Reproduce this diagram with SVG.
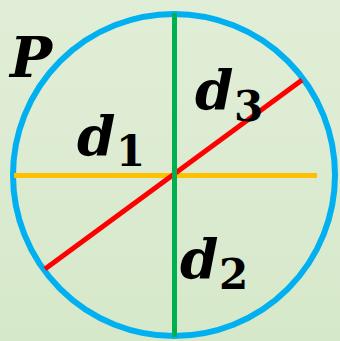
<svg xmlns="http://www.w3.org/2000/svg" width="340" height="341" viewBox="0 0 340 341">
<defs>
<linearGradient id="bg" x1="0" y1="0" x2="0" y2="1">
<stop offset="0" stop-color="#e1eed7"/>
<stop offset="1" stop-color="#d6e8ca"/>
</linearGradient>
<style>
.v{font-family:"DejaVu Serif",serif;font-weight:bold;font-style:italic;fill:#000}
.s{font-family:"DejaVu Serif",serif;font-weight:bold;fill:#000}
.ln{stroke-width:5;fill:none}
</style>
</defs>
<rect width="340" height="341" fill="url(#bg)"/>
<g id="circle"><circle cx="174" cy="175" r="161" fill="none" stroke="#00b0f0" stroke-width="6"/></g>
<g id="connectors">
<line class="ln" x1="14" y1="175.5" x2="317" y2="175.5" stroke="#ffc000"/>
<line class="ln" x1="45" y1="269" x2="302" y2="80" stroke="#ff0000"/>
<line class="ln" x1="174.5" y1="13" x2="174.5" y2="337" stroke="#00b050"/>
</g>
<g id="labels">
<text class="v" x="10" y="77" font-size="56">P</text>
<text class="v" x="77" y="155" font-size="55">d</text><text class="s" x="116" y="166" font-size="42">1</text>
<text class="v" x="195" y="109" font-size="55">d</text><text class="s" x="234" y="121" font-size="42">3</text>
<text class="v" x="180" y="278" font-size="55">d</text><text class="s" x="219" y="289" font-size="42">2</text>
</g>
</svg>
